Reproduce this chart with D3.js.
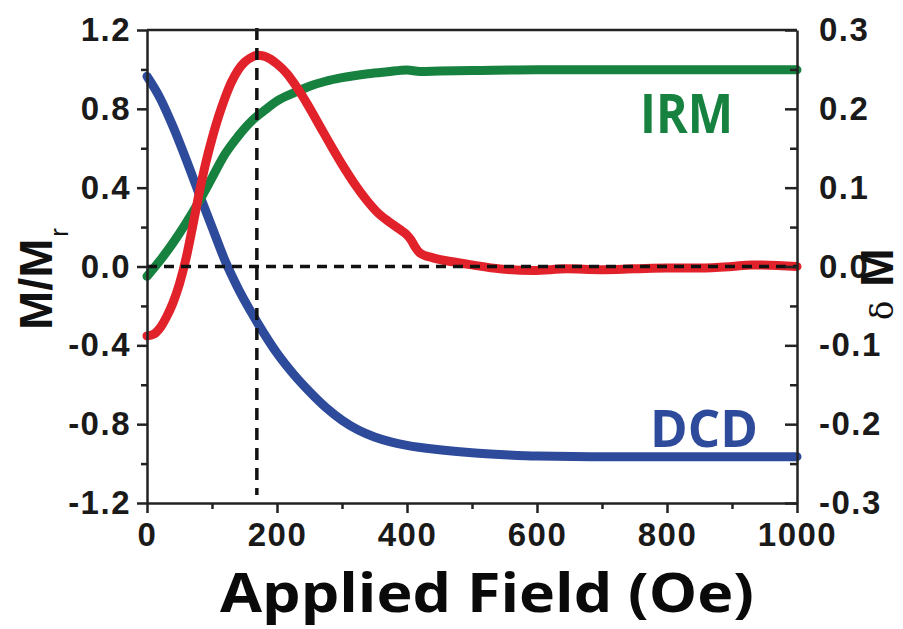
<!DOCTYPE html>
<html><head><meta charset="utf-8">
<script src="https://cdn.jsdelivr.net/npm/d3@7"></script>
<style>body{margin:0;background:#fff}svg{display:block}</style>
</head><body>
<svg id="c" width="903" height="629"></svg>
<script>
// ---- data ----
const irmField = [0,20,40,60,80,100,120,140,160,180,200,225,250,275,300,340,370,400,420,450,500,600,700,800,900,1000];
const irmValue = [-0.05,0.03,0.12,0.22,0.33,0.45,0.57,0.66,0.735,0.79,0.84,0.88,0.915,0.94,0.958,0.978,0.988,0.997,0.99,0.992,0.994,0.998,0.998,0.998,0.998,0.998];

const dcdField = [0,20,40,60,80,100,120,140,160,180,200,225,250,275,300,325,350,375,400,450,500,550,600,700,800,900,1000];
const dcdValue = [0.965,0.855,0.71,0.545,0.37,0.2,0.03,-0.11,-0.23,-0.34,-0.44,-0.545,-0.635,-0.715,-0.78,-0.83,-0.865,-0.89,-0.908,-0.93,-0.945,-0.955,-0.962,-0.965,-0.965,-0.965,-0.965];

const dmField = [0,10,20,30,40,50,60,70,80,90,100,110,120,130,140,150,160,170,180,190,200,215,230,246,266,284,302,320,338,354,372,389,400,406,413,420,440,470,500,543,594,646,697,750,800,850,900,930,1000];
const dmValue = [-0.088,-0.086,-0.078,-0.064,-0.046,-0.022,0.01,0.05,0.092,0.13,0.162,0.19,0.214,0.234,0.249,0.259,0.265,0.268,0.267,0.263,0.257,0.245,0.228,0.207,0.178,0.152,0.127,0.104,0.084,0.069,0.057,0.047,0.04,0.034,0.024,0.017,0.011,0.006,0.002,-0.003,-0.005,-0.003,-0.004,-0.003,-0.002,-0.002,0.0,0.002,0.0];

const xTicks = [0,200,400,600,800,1000];
const xMinor = [100,300,500,700,900];
const yLeftTicks = [-1.2,-0.8,-0.4,0.0,0.4,0.8,1.2];
const yLeftMinor = [-1.0,-0.6,-0.2,0.2,0.6,1.0];
const yRightTicks = [-0.3,-0.2,-0.1,0.0,0.1,0.2,0.3];
const yRightMinor = [-0.25,-0.15,-0.05,0.05,0.15,0.25];
const markerField = 169;

// ---- layout ----
const L = 147, R = 797, T = 30, B = 503;
const svg = d3.select("#c");
const x = d3.scaleLinear().domain([0,1000]).range([L,R]);
const yL = d3.scaleLinear().domain([-1.2,1.2]).range([B,T]);
const yR = d3.scaleLinear().domain([-0.3,0.3]).range([B,T]);

const green = "#17813f", red = "#e2222b", blue = "#2e4b9b";
const fmt1 = d => d3.format(".1f")(d).replace("\u2212","-");

const lineL = (fx, fy) => d3.line().x((d,i)=>x(fx[i])).y((d,i)=>yL(fy[i])).curve(d3.curveMonotoneX)(fx);
const lineR = (fx, fy) => d3.line().x((d,i)=>x(fx[i])).y((d,i)=>yR(fy[i])).curve(d3.curveMonotoneX)(fx);

svg.append("path").attr("d", lineL(dcdField, dcdValue)).attr("fill","none").attr("stroke",blue).attr("stroke-width",9).attr("stroke-linecap","round").attr("stroke-linejoin","round");
svg.append("path").attr("d", lineL(irmField, irmValue)).attr("fill","none").attr("stroke",green).attr("stroke-width",9).attr("stroke-linecap","round").attr("stroke-linejoin","round");
svg.append("path").attr("d", lineR(dmField, dmValue)).attr("fill","none").attr("stroke",red).attr("stroke-width",9).attr("stroke-linecap","round").attr("stroke-linejoin","round");

// dashed reference lines
svg.append("line").attr("x1",L).attr("x2",R).attr("y1",yL(0)).attr("y2",yL(0))
  .attr("stroke","#111").attr("stroke-width",3.5).attr("stroke-dasharray","10,7");
svg.append("line").attr("x1",x(markerField)).attr("x2",x(markerField)).attr("y1",T-2).attr("y2",B-8)
  .attr("stroke","#111").attr("stroke-width",3.5).attr("stroke-dasharray","12,8");

// frame top
svg.append("line").attr("x1",L).attr("x2",R).attr("y1",T).attr("y2",T).attr("stroke","#222").attr("stroke-width",2.5);

const tickFont = g => g.selectAll("text").attr("font-family","'Liberation Sans', Arial, sans-serif")
  .attr("font-weight","bold").attr("font-size",33).attr("fill","#1a1a1a").style("letter-spacing","1.5px");
const styleAxis = g => { g.select(".domain").attr("stroke","#222").attr("stroke-width",2.5);
  g.selectAll(".tick line").attr("stroke","#222").attr("stroke-width",2.5); };

// bottom
svg.append("g").attr("transform",`translate(0,${B})`)
  .call(d3.axisBottom(x).tickValues(xTicks).tickSize(10).tickSizeOuter(0).tickPadding(10).tickFormat(d3.format("d")))
  .call(styleAxis).call(tickFont);
svg.append("g").attr("transform",`translate(0,${B})`)
  .call(d3.axisBottom(x).tickValues(xMinor).tickSize(6).tickSizeOuter(0).tickFormat(""))
  .call(styleAxis).call(g=>g.select(".domain").remove());

// left
svg.append("g").attr("transform",`translate(${L},0)`)
  .call(d3.axisLeft(yL).tickValues(yLeftTicks).tickSize(10).tickSizeOuter(0).tickPadding(6).tickFormat(fmt1))
  .call(styleAxis).call(tickFont);
svg.append("g").attr("transform",`translate(${L},0)`)
  .call(d3.axisLeft(yL).tickValues(yLeftMinor).tickSize(6).tickSizeOuter(0).tickFormat(""))
  .call(styleAxis).call(g=>g.select(".domain").remove());

// right (ticks inward)
svg.append("g").attr("transform",`translate(${R},0)`)
  .call(d3.axisRight(yR).tickValues(yRightTicks).tickSize(-12).tickSizeOuter(0).tickPadding(22).tickFormat(fmt1))
  .call(styleAxis).call(tickFont);
svg.append("g").attr("transform",`translate(${R},0)`)
  .call(d3.axisRight(yR).tickValues(yRightMinor).tickSize(-7).tickSizeOuter(0).tickFormat(""))
  .call(styleAxis).call(g=>g.select(".domain").remove());

// series labels
svg.append("text").attr("x",640).attr("y",133).text("IRM")
  .attr("font-family","'Open Sans', sans-serif").attr("font-weight","bold").attr("font-size",53)
  .attr("fill",green).attr("textLength",93).attr("lengthAdjust","spacingAndGlyphs");
svg.append("text").attr("x",650).attr("y",447).text("DCD")
  .attr("font-family","'Open Sans', sans-serif").attr("font-weight","bold").attr("font-size",52)
  .attr("fill",blue).attr("textLength",108).attr("lengthAdjust","spacingAndGlyphs");

// x axis title
svg.append("text").attr("x",220).attr("y",612).text("Applied Field (Oe)")
  .attr("font-family","'Open Sans', sans-serif").attr("font-weight","bold").attr("font-size",54)
  .attr("fill","#0a0a0a").attr("textLength",534).attr("lengthAdjust","spacingAndGlyphs");

// left y title M/Mr
const lt = svg.append("text").attr("transform","translate(52,330) rotate(-90)")
  .attr("font-family","'Liberation Sans', Arial, sans-serif").attr("font-weight","bold").attr("fill","#111");
lt.append("tspan").attr("font-size",47).text("M/M");
lt.append("tspan").attr("font-size",26).attr("font-weight","normal").attr("dy",16).attr("dx",2).text("r");

// right y title δM
const rt = svg.append("text").attr("transform","translate(893,320) rotate(-90)").attr("fill","#111");
rt.append("tspan").attr("font-family","'DejaVu Serif', serif").attr("font-size",32).text("δ");
rt.append("tspan").attr("font-family","'Liberation Sans', Arial, sans-serif").attr("font-weight","bold")
  .attr("font-size",46).attr("dx",14).text("M");
</script>
</body></html>
